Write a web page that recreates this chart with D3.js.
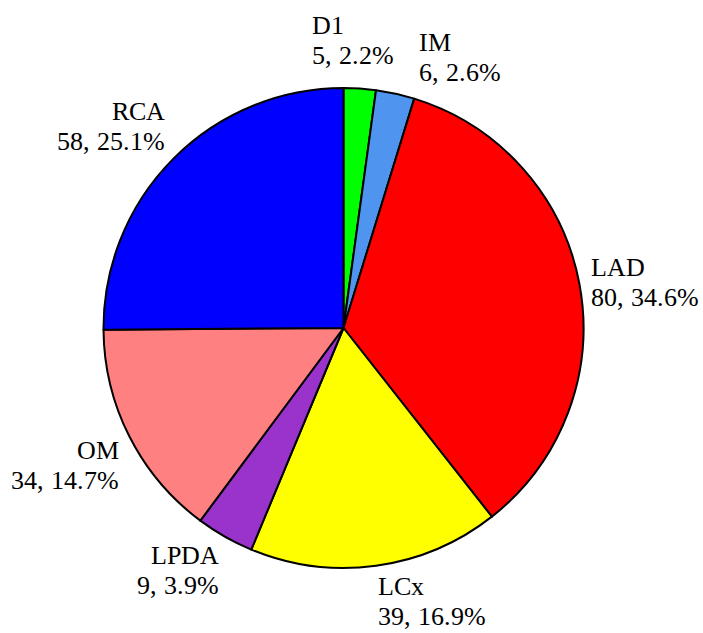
<!DOCTYPE html>
<html>
<head>
<meta charset="utf-8">
<script src="https://cdn.jsdelivr.net/npm/d3@7/dist/d3.min.js"></script>
<style>
  @font-face {
    font-family: "LabelSerif";
    src: local("Liberation Serif"), local("LiberationSerif"), local("LiberationSerif-Regular"),
         local("DejaVu Serif"), local("DejaVuSerif");
  }
  html, body { margin: 0; padding: 0; background: #fff; }
  svg { display: block; }
  svg text { font-family: "LabelSerif", "Liberation Serif", "Times New Roman", serif; }
</style>
</head>
<body>
<svg id="chart" width="703" height="633"></svg>
<script>
// Lesion counts by coronary artery segment
const categories = ["D1", "IM", "LAD", "LCx", "LPDA", "OM", "RCA"];
const counts     = [5, 6, 80, 39, 9, 34, 58];
const percents   = ["2.2%", "2.6%", "34.6%", "16.9%", "3.9%", "14.7%", "25.1%"];
const colors     = ["#00ff00", "#4f95ef", "#ff0000", "#ffff00", "#9933cc", "#ff8080", "#0000ff"];

// Hand-placed label shifts for the two crowded slices at the top
const labelNudge = { D1: [-49, -13], IM: [21, -1] };

const cx = 343.5, cy = 328, radius = 240;
const labelRadius = 252;
const fontSize = 26, lineGap = 30, capH = 17;

const svg = d3.select("#chart");
const g = svg.append("g").attr("transform", `translate(${cx},${cy})`);

const rows = categories.map((c, i) => ({ cat: c, value: counts[i], pct: percents[i], color: colors[i] }));

const pie = d3.pie().value(d => d.value).sort(null);
const arc = d3.arc().innerRadius(0).outerRadius(radius);
const arcs = pie(rows);

g.selectAll("path.slice")
  .data(arcs)
  .join("path")
  .attr("class", "slice")
  .attr("d", arc)
  .attr("fill", d => d.data.color)
  .attr("stroke", "#000")
  .attr("stroke-width", 2)
  .attr("stroke-linejoin", "round");

// Labels: anchored just outside the slice at its mid angle
const labels = g.selectAll("g.label")
  .data(arcs)
  .join("g")
  .attr("class", "label");

labels.each(function (d) {
  const a = (d.startAngle + d.endAngle) / 2;
  const s = Math.sin(a), c = Math.cos(a);
  let x = labelRadius * s;
  let y = -labelRadius * c;
  const anchor = s >= 0 ? "start" : "end";
  // baseline of the first line
  let base1;
  if (c > 0.3) base1 = y - lineGap;            // upper: block sits above the point
  else if (c < -0.3) base1 = y + capH;          // lower: block hangs below the point
  else base1 = y - (capH + lineGap) / 2 + capH; // side: block centred on the point
  const n = labelNudge[d.data.cat] || [0, 0];
  x += n[0];
  base1 += n[1];
  const t = d3.select(this).append("text")
    .attr("text-anchor", anchor)
    .attr("font-size", fontSize)
    .attr("fill", "#000");
  t.append("tspan").attr("x", x).attr("y", base1).text(d.data.cat);
  t.append("tspan").attr("x", x).attr("y", base1 + lineGap).text(`${d.data.value}, ${d.data.pct}`);
});
</script>
</body>
</html>
